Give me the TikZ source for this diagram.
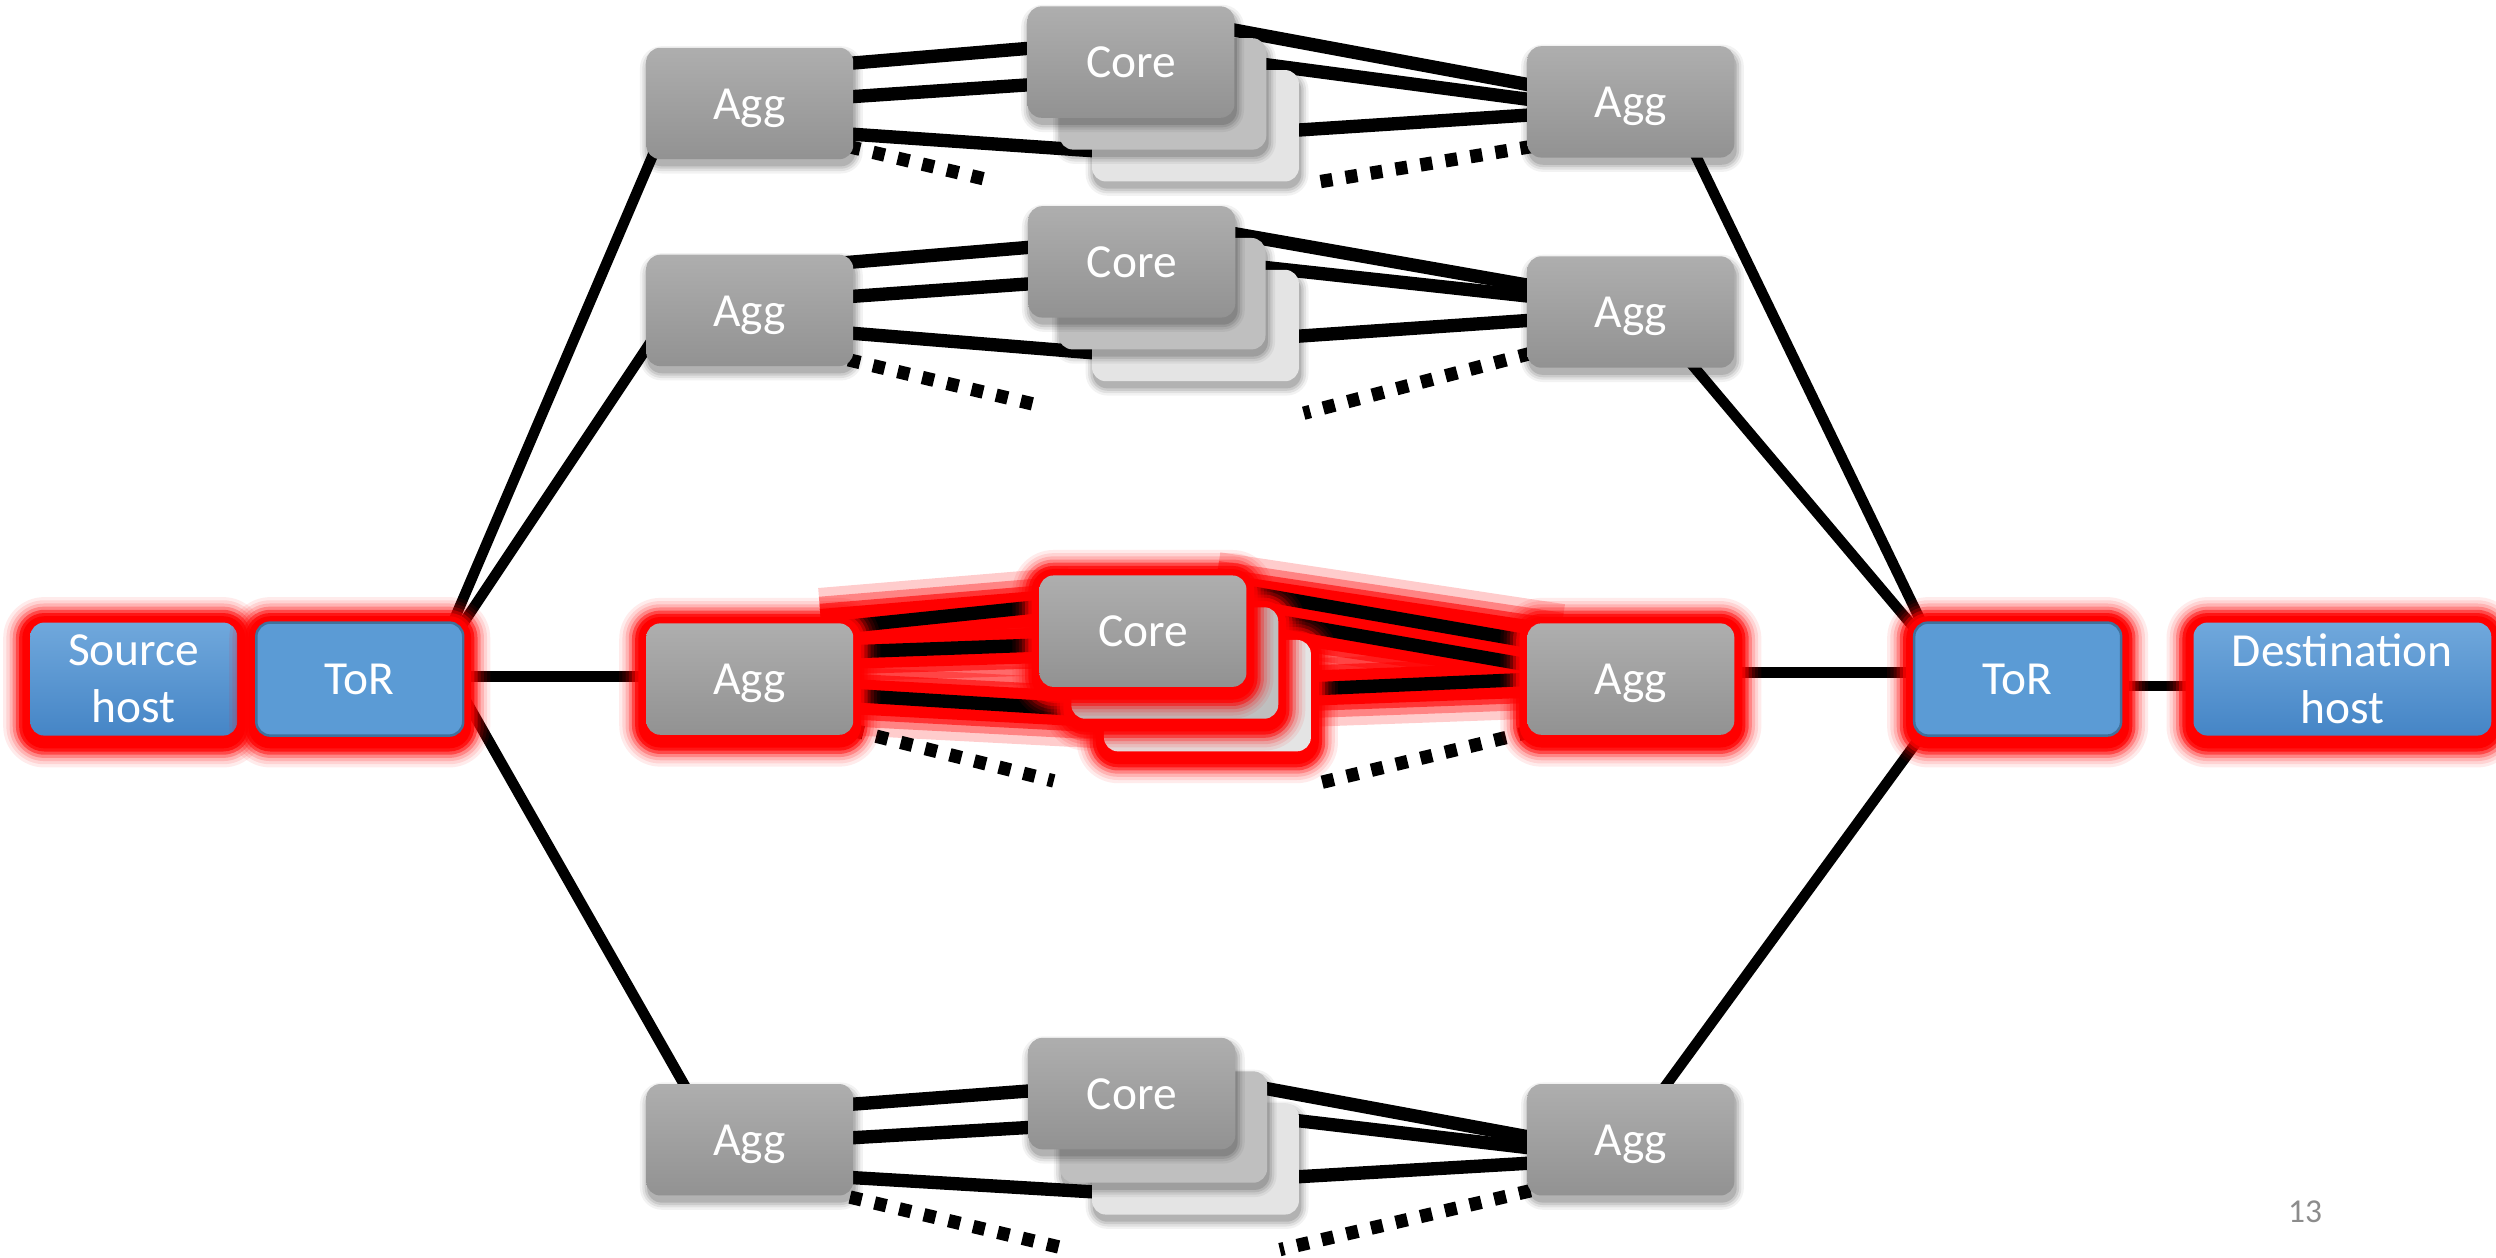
\documentclass[tikz,border=0pt]{standalone}
\usepackage{fontspec}
\setmainfont{Carlito}
\usetikzlibrary{calc}
\definecolor{aggtop}{HTML}{AEAEAE}
\definecolor{aggbot}{HTML}{929292}
\definecolor{torblue}{HTML}{5B9BD5}
\definecolor{torborder}{HTML}{41719C}
\definecolor{hosttop}{HTML}{70A8DC}
\definecolor{hostbot}{HTML}{4585C6}
\definecolor{backone}{HTML}{BFBFBF}
\definecolor{backtwo}{HTML}{E4E4E4}
\definecolor{pagegray}{HTML}{8C8C8C}
\pgfdeclarelayer{bg}
\pgfdeclarelayer{lglow}
\pgfdeclarelayer{links}
\pgfsetlayers{bg,lglow,links,main}
% red glow behind a box centred at (#1,#2), half width #3, half height #4
\newcommand\glowat[4]{%
  \foreach \s/\o in {17/0.08,15/0.1,13/0.15,11/0.25,9/0.45,7/0.7,5/1}{%
    \pgfmathsetmacro\rr{0.14+\s*0.015918}%
    \fill[red, opacity=\o, rounded corners=\rr cm] (#1-#3-\s, #2+#4+\s+3) rectangle (#1+#3+\s, #2-#4-\s+1);
  }}
% soft grey shadow behind a box
\newcommand\shadowat[4]{%
  \foreach \s/\o in {5/0.05,3.5/0.07,2/0.09,0.5/0.12}{%
    \pgfmathsetmacro\rr{0.14+\s*0.015918}%
    \fill[black, opacity=\o, rounded corners=\rr cm] (#1-#3-\s+1, #2+#4+\s+4) rectangle (#1+#3+\s+1, #2-#4-\s+4);
  }}
\begin{document}
\begin{tikzpicture}[x=0.015918cm, y=-0.015918cm,
  netbox/.style={rounded corners=0.14cm, minimum width=2.069cm, minimum height=1.114cm, inner sep=0pt, text=white, font=\fontsize{13.5}{16.2}\selectfont, align=center},
  oneline/.style={text height=12pt, text depth=3pt},
  aggbox/.style={netbox, oneline, top color=aggtop, bottom color=aggbot},
  backonebox/.style={netbox, fill=backone},
  backtwobox/.style={netbox, fill=backtwo},
  torbox/.style={netbox, oneline, minimum height=1.13cm, fill=torblue, draw=torborder, line width=0.7pt},
  hostbox/.style={netbox, minimum height=1.13cm, top color=hosttop, bottom color=hostbot},
  link/.style={line width=3.8pt, black},
  uplink/.style={line width=3pt, black},
  dotlink/.style={line width=3.8pt, black, dash pattern=on 3.4pt off 3.8pt},
  glowa/.style={line width=22pt, red, opacity=0.2},
  glowb/.style={line width=17pt, red, opacity=0.35},
  glowc/.style={line width=13pt, red, opacity=0.6},
  glowd/.style={line width=10pt, red}
]
\begin{pgfonlayer}{bg}
\fill[white] (0,0) rectangle (1568,790);
\end{pgfonlayer}
\useasboundingbox (0,0) rectangle (1568,790);

% ---------- Row 1 ----------
\shadowat{471}{65}{65}{35}
\node[aggbox] (aggL1) at (471,65) {Agg};
\shadowat{751}{79}{65}{35}
\node[backtwobox] (core1c) at (751,79) {};
\shadowat{730.5}{59}{65}{35}
\node[backonebox] (core1b) at (730.5,59) {};
\shadowat{710.5}{39}{65}{35}
\node[aggbox] (core1a) at (710.5,39) {Core};
\shadowat{1024.5}{64}{65}{35}
\node[aggbox] (aggR1) at (1024.5,64) {Agg};

% ---------- Row 2 ----------
\shadowat{471}{195}{65}{35}
\node[aggbox] (aggL2) at (471,195) {Agg};
\shadowat{751}{204.5}{65}{35}
\node[backtwobox] (core2c) at (751,204.5) {};
\shadowat{730}{184.5}{65}{35}
\node[backonebox] (core2b) at (730,184.5) {};
\shadowat{711}{164.5}{65}{35}
\node[aggbox] (core2a) at (711,164.5) {Core};
\shadowat{1024.5}{196}{65}{35}
\node[aggbox] (aggR2) at (1024.5,196) {Agg};

% ---------- Row 3 (highlighted) ----------
\glowat{84}{426.6}{65}{35.5}
\node[hostbox] (src) at (84,426.6) {Source\\host};
\glowat{226}{426.6}{65}{35.5}
\node[torbox] (torL) at (226,426.6) {ToR};
\glowat{471}{426.6}{65}{35}
\node[aggbox] (aggL3) at (471,426.6) {Agg};
\glowat{758.5}{437}{65}{35}
\node[backtwobox] (core3c) at (758.5,437) {};
\glowat{738}{416.5}{65}{35}
\node[backonebox] (core3b) at (738,416.5) {};
\glowat{718}{396.5}{65}{35}
\node[aggbox] (core3a) at (718,396.5) {Core};
\glowat{1024.5}{426.6}{65}{35}
\node[aggbox] (aggR3) at (1024.5,426.6) {Agg};
\glowat{1267.5}{426.6}{65}{35.5}
\node[torbox] (torR) at (1267.5,426.6) {ToR};
\glowat{1471.5}{426.6}{93.5}{35.5}
\node[hostbox, minimum width=2.977cm] (dst) at (1471.5,426.6) {Destination\\host};

% ---------- Row 4 ----------
\shadowat{471}{716}{65}{35}
\node[aggbox] (aggL4) at (471,716) {Agg};
\shadowat{751}{728}{65}{35}
\node[backtwobox] (core4c) at (751,728) {};
\shadowat{731}{708}{65}{35}
\node[backonebox] (core4b) at (731,708) {};
\shadowat{711}{687}{65}{35}
\node[aggbox] (core4a) at (711,687) {Core};
\shadowat{1024.5}{716}{65}{35}
\node[aggbox] (aggR4) at (1024.5,716) {Agg};

\node[text=pagegray, font=\fontsize{9.5}{11}\selectfont] (pagenum) at (1448,761) {13};

% ---------- free ends of dotted links ----------
\coordinate (d1l) at ($(aggL1)+(154,49)$);
\coordinate (d1r) at ($(aggR1)+(-200.5,51)$);
\coordinate (d2l) at ($(aggL2)+(185,60.5)$);
\coordinate (d2r) at ($(aggR2)+(-205.5,63.6)$);
\coordinate (d3l) at ($(aggL3)+(191,64)$);
\coordinate (d3r) at ($(aggR3)+(-200.5,66.4)$);
\coordinate (d4l) at ($(aggL4)+(201,69)$);
\coordinate (d4r) at ($(aggR4)+(-220.5,69)$);

% ---------- glow of highlighted links ----------
\begin{pgfonlayer}{lglow}
\foreach \g in {glowa,glowb,glowc,glowd}{
  \draw[\g] ($(aggL3)+(45,-33)$) -- ($(core3a)+(-45,-16)$);
  \draw[\g] ($(aggL3)+(45,-17)$) -- ($(core3a)+(-45,8.5)$);
  \draw[\g] ($(aggL3)+(45,10)$) -- ($(core3c)+(-45,10)$);
  \draw[\g] ($(core3a)+(45,-25.5)$) -- ($(aggR3)+(-45,-23)$);
  \draw[\g] ($(core3b)+(45,-27)$) -- ($(aggR3)+(-45,-8)$);
  \draw[\g] ($(core3c)+(45,-4)$) -- ($(aggR3)+(-45,0)$);
}
\end{pgfonlayer}

% ---------- links ----------
\begin{pgfonlayer}{links}
% row 1
\draw[link] ($(aggL1)+(60,-25)$) -- ($(core1a)+(-60,-9)$);
\draw[link] ($(aggL1)+(60,-4)$) -- ($(core1a)+(-60,14)$);
\draw[link] ($(aggL1)+(60,19)$) -- ($(core1c)+(-60,16)$);
\draw[link] ($(core1a)+(60,-21)$) -- ($(aggR1)+(-60,-10)$);
\draw[link] ($(core1b)+(60,-19)$) -- ($(aggR1)+(-60,-1)$);
\draw[link] ($(core1c)+(60,3)$) -- ($(aggR1)+(-60,8)$);
\draw[dotlink] ($(aggL1)+(62,27)$) -- (d1l);
\draw[dotlink] ($(aggR1)+(-62,28)$) -- (d1r);
% row 2
\draw[link] ($(aggL2)+(60,-30)$) -- ($(core2a)+(-60,-9.5)$);
\draw[link] ($(aggL2)+(60,-8.5)$) -- ($(core2a)+(-60,13.5)$);
\draw[link] ($(aggL2)+(60,14)$) -- ($(core2c)+(-60,17.5)$);
\draw[link] ($(core2a)+(60,-18.5)$) -- ($(aggR2)+(-60,-16)$);
\draw[link] ($(core2b)+(60,-17)$) -- ($(aggR2)+(-60,-9.5)$);
\draw[link] ($(core2c)+(60,7)$) -- ($(aggR2)+(-60,5)$);
\draw[dotlink] ($(aggL2)+(62,31)$) -- (d2l);
\draw[dotlink] ($(aggR2)+(-63,26)$) -- (d2r);
% row 3
\draw[link] ($(aggL3)+(60,-33)$) -- ($(core3a)+(-60,-16)$);
\draw[link] ($(aggL3)+(60,-17)$) -- ($(core3a)+(-60,8.5)$);
\draw[link] ($(aggL3)+(60,10)$) -- ($(core3c)+(-60,10)$);
\draw[link] ($(core3a)+(60,-25.5)$) -- ($(aggR3)+(-60,-23)$);
\draw[link] ($(core3b)+(60,-27)$) -- ($(aggR3)+(-60,-8)$);
\draw[link] ($(core3c)+(60,-4)$) -- ($(aggR3)+(-60,0)$);
\draw[dotlink] ($(aggL3)+(64,32)$) -- (d3l);
\draw[dotlink] ($(aggR3)+(-63,33)$) -- (d3r);
% row 4
\draw[link] ($(aggL4)+(60,-22)$) -- ($(core4a)+(-60,-2)$);
\draw[link] ($(aggL4)+(60,-1)$) -- ($(core4a)+(-60,21)$);
\draw[link] ($(aggL4)+(60,23.5)$) -- ($(core4c)+(-60,21)$);
\draw[link] ($(core4b)+(60,-25)$) -- ($(aggR4)+(-60,-1)$);
\draw[link] ($(core4c)+(60,-24.5)$) -- ($(aggR4)+(-60,5.5)$);
\draw[link] ($(core4c)+(60,11.5)$) -- ($(aggR4)+(-60,14.5)$);
\draw[dotlink] ($(aggL4)+(63,36)$) -- (d4l);
\draw[dotlink] ($(aggR4)+(-63,32)$) -- (d4r);
% ToR links
\draw[uplink] ($(torL)+(56,-29.6)$) -- ($(aggL1)+(-59,28)$);
\draw[uplink] ($(torL)+(64,-33.6)$) -- ($(aggL2)+(-57,12)$);
\draw[uplink] ($(torL)+(60,-1.6)$) -- ($(aggL3)+(-60,-1.6)$);
\draw[uplink] ($(torL)+(59,0)$) -- ($(aggL4)+(-38,-29)$);
\draw[uplink] ($(aggR1)+(38.5,29)$) -- ($(torR)+(-58.5,-31.6)$);
\draw[uplink] ($(aggR2)+(35,29)$) -- ($(torR)+(-59.5,-25.6)$);
\draw[uplink] ($(aggR3)+(60,-4)$) -- ($(torR)+(-60,-4)$);
\draw[uplink] ($(aggR4)+(17.5,-28)$) -- ($(torR)+(-57.5,31.4)$);
\draw[uplink] ($(torR)+(60,4.4)$) -- ($(dst)+(-88,4.4)$);
\end{pgfonlayer}
\end{tikzpicture}
\end{document}
